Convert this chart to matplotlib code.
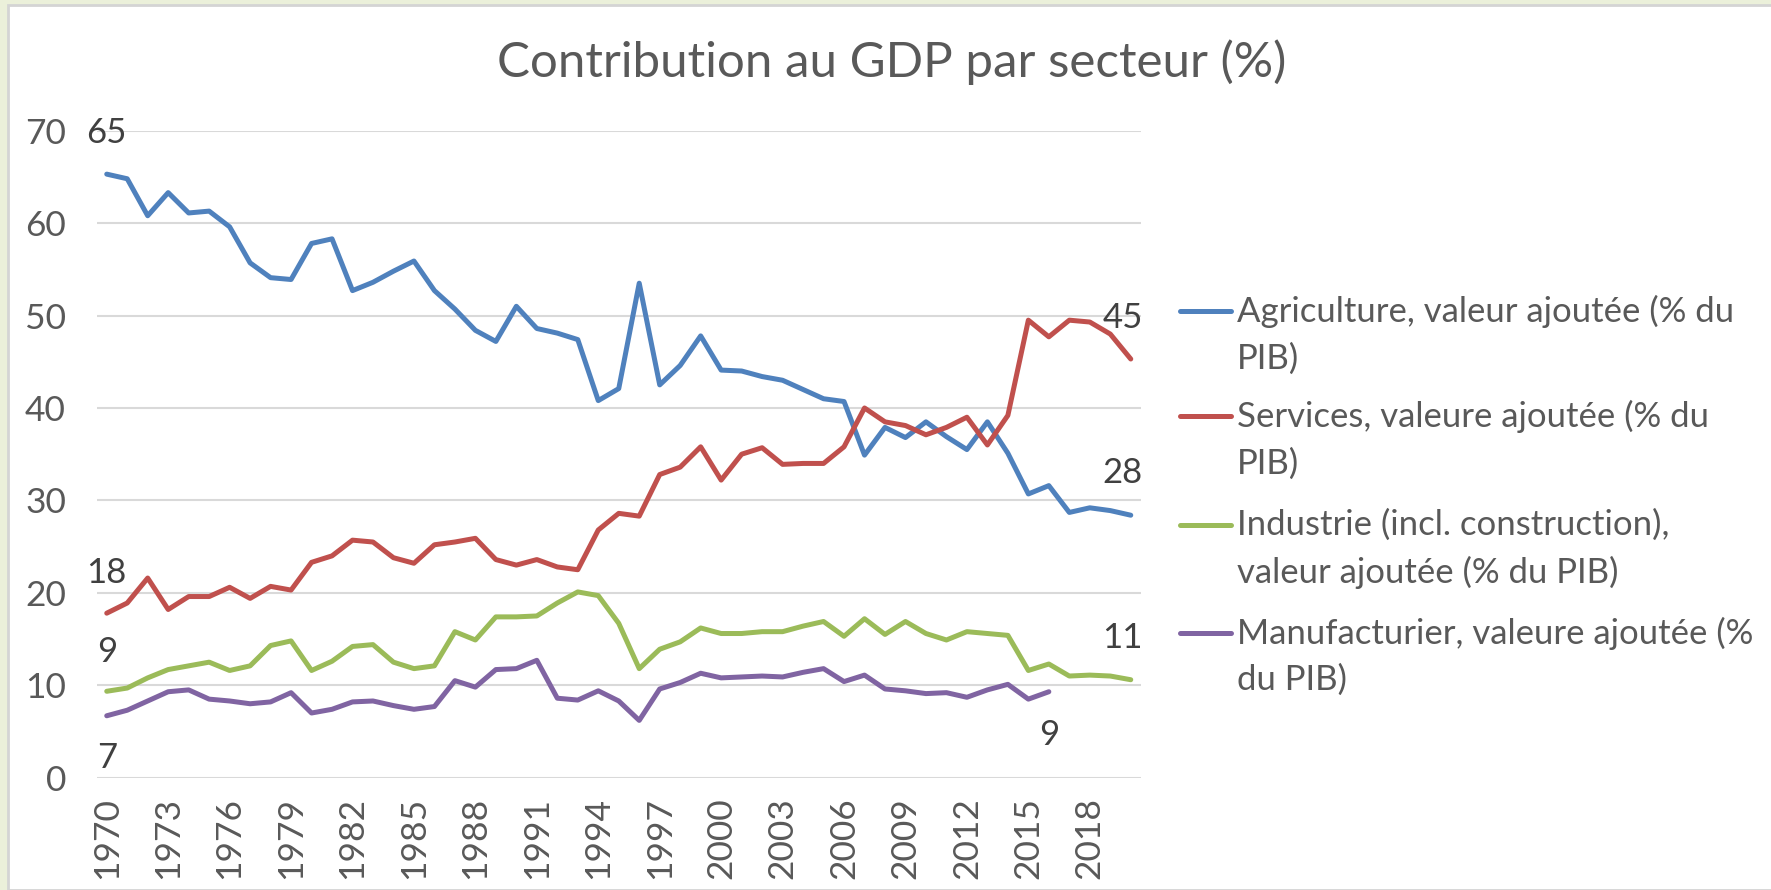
import numpy as np
from matplotlib import pyplot as plt
from matplotlib.lines import Line2D
from matplotlib.patches import Rectangle

plt.rcParams['font.family'] = ['Lato', 'DejaVu Sans']

years = list(range(1970, 2021))

agriculture = [
    65.3, 64.8, 60.8, 63.3, 61.1, 61.3, 59.6, 55.7, 54.1, 53.9,
    57.8, 58.3, 52.7, 53.6, 54.8, 55.9, 52.7, 50.7, 48.4, 47.2,
    51.0, 48.6, 48.1, 47.4, 40.8, 42.1, 53.5, 42.5, 44.6, 47.8,
    44.1, 44.0, 43.4, 43.0, 42.0, 41.0, 40.7, 34.9, 37.9, 36.8,
    38.5, 36.9, 35.5, 38.5, 35.1, 30.7, 31.6, 28.7, 29.2, 28.9,
    28.4,
]
services = [
    17.8, 18.9, 21.6, 18.2, 19.6, 19.6, 20.6, 19.4, 20.7, 20.3,
    23.3, 24.0, 25.7, 25.5, 23.8, 23.2, 25.2, 25.5, 25.9, 23.6,
    23.0, 23.6, 22.8, 22.5, 26.8, 28.6, 28.3, 32.8, 33.6, 35.8,
    32.2, 35.0, 35.7, 33.9, 34.0, 34.0, 35.8, 40.0, 38.5, 38.1,
    37.1, 37.9, 39.0, 36.0, 39.2, 49.5, 47.7, 49.5, 49.3, 48.0,
    45.3,
]
industrie = [
    9.35, 9.7, 10.8, 11.7, 12.1, 12.5, 11.6, 12.1, 14.3, 14.8,
    11.6, 12.6, 14.2, 14.4, 12.5, 11.8, 12.1, 15.8, 14.9, 17.4,
    17.4, 17.5, 18.9, 20.1, 19.7, 16.7, 11.8, 13.9, 14.7, 16.2,
    15.6, 15.6, 15.8, 15.8, 16.4, 16.9, 15.3, 17.2, 15.5, 16.9,
    15.6, 14.9, 15.8, 15.6, 15.4, 11.6, 12.3, 11.0, 11.1, 11.0,
    10.6,
]
# manufacturing series stops in 2016
manufacturier = [
    6.7, 7.3, 8.3, 9.3, 9.5, 8.5, 8.3, 8.0, 8.2, 9.2,
    7.0, 7.4, 8.2, 8.3, 7.8, 7.4, 7.7, 10.5, 9.8, 11.7,
    11.8, 12.7, 8.6, 8.4, 9.4, 8.3, 6.2, 9.6, 10.3, 11.3,
    10.8, 10.9, 11.0, 10.9, 11.4, 11.8, 10.4, 11.1, 9.6, 9.4,
    9.1, 9.2, 8.7, 9.5, 10.1, 8.5, 9.3,
]

series_labels = [
    "Agriculture, valeur ajoutée (% du\nPIB)",
    "Services, valeure ajoutée (% du\nPIB)",
    "Industrie (incl. construction),\nvaleur ajoutée (% du PIB)",
    "Manufacturier, valeure ajoutée (%\ndu PIB)",
]
colors = ["#4f81bd", "#c0504d", "#9bbb59", "#8064a2"]

# rounded start / end values written on the chart
start_labels = ["65", "18", "9", "7"]
end_labels = ["28", "45", "11", "9"]

W, H = 1771, 890
fig = plt.figure(figsize=(W / 100, H / 100), dpi=100)
fig.patch.set_facecolor("#ebf0da")
fig.add_artist(Rectangle((8 / W, 0), 1, 1 - 5 / H, transform=fig.transFigure,
                         facecolor="white", edgecolor="#d4d4d4", linewidth=2,
                         zorder=-10))

ax = fig.add_axes([96.5 / W, 1 - 777.7 / H, (1141 - 96.5) / W, (777.7 - 130.7) / H])
ax.set_facecolor("none")

all_series = [agriculture, services, industrie, manufacturier]
for vals, c in zip(all_series, colors):
    ax.plot(years[:len(vals)], vals, color=c, linewidth=3.6, solid_capstyle="round",
            solid_joinstyle="round")

ax.set_xlim(1969.5, 2020.5)
ax.set_ylim(0, 70)
ax.set_yticks(range(0, 71, 10))
ax.set_xticks(years[::3])
ax.set_xticklabels([str(y) for y in years[::3]], rotation=90)
ax.tick_params(axis="both", length=0, labelsize=25.5, labelcolor="#595959")
ax.tick_params(axis="y", pad=22)
ax.tick_params(axis="x", pad=14)
ax.grid(axis="y", color="#d9d9d9", linewidth=1.5)
ax.set_axisbelow(True)
for s in ax.spines.values():
    s.set_visible(False)

lbl_kw = dict(fontsize=25, color="#404040", ha="center", va="center")
ax.text(years[0], 69.8, start_labels[0], **lbl_kw)
ax.text(years[0], 22.1, start_labels[1], **lbl_kw)
ax.text(years[0], 13.6, start_labels[2], **lbl_kw)
ax.text(years[0], 2.1, start_labels[3], **lbl_kw)
ax.text(years[-1] - 0.4, 33.0, end_labels[0], **lbl_kw)
ax.text(years[-1] - 0.4, 49.7, end_labels[1], **lbl_kw)
ax.text(years[-1] - 0.4, 15.1, end_labels[2], **lbl_kw)
ax.text(len(manufacturier) + 1969, 4.6, end_labels[3], **lbl_kw)

fig.text(892 / W, 1 - 62 / H, "Contribution au GDP par secteur (%)",
         fontsize=35.5, color="#595959", ha="center", va="center")

# legend, handle aligned with the first line of each entry like Excel does
entry_y = [310.6, 415.6, 525, 632.5]
for lab, c, y in zip(series_labels, colors, entry_y):
    fig.add_artist(Line2D([1180 / W, 1231 / W], [1 - y / H, 1 - y / H],
                          transform=fig.transFigure, color=c, linewidth=3.6,
                          solid_capstyle="round"))
    fig.text(1237 / W, 1 - (y - 16) / H, lab, fontsize=25, color="#595959",
             ha="left", va="top", linespacing=1.55)

fig.savefig("out.png", dpi=100, facecolor=fig.get_facecolor())
